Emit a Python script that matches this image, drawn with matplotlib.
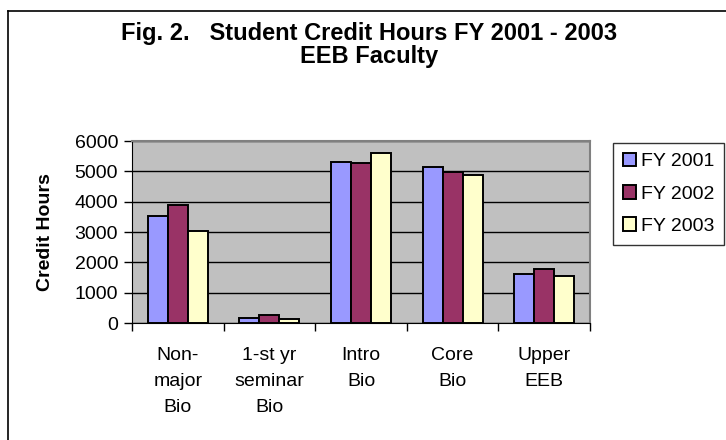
import matplotlib
matplotlib.use("Agg")
import matplotlib.pyplot as plt
import numpy as np
from matplotlib.lines import Line2D
from matplotlib.patches import Patch

categories = ["Non-\nmajor\nBio", "1-st yr\nseminar\nBio", "Intro\nBio", "Core\nBio", "Upper\nEEB"]
series_names = ["FY 2001", "FY 2002", "FY 2003"]
fy2001 = [3530, 175, 5320, 5130, 1615]
fy2002 = [3900, 250, 5265, 4970, 1770]
fy2003 = [3030, 130, 5595, 4880, 1550]
yticks = [0, 1000, 2000, 3000, 4000, 5000, 6000]

colors = ["#9999FF", "#993366", "#FFFFCC"]
plt.rcParams['font.family'] = ['Liberation Sans', 'DejaVu Sans']

W, H = 726, 440
fig = plt.figure(figsize=(W/100, H/100), dpi=100)
fig.patch.set_facecolor("white")

ax = fig.add_axes([132/W, 1-323/H, (590-132)/W, (323-141)/H])
ax.set_facecolor("#C0C0C0")
x = np.arange(len(categories))
bw = 0.218
for i, (vals, c) in enumerate(zip([fy2001, fy2002, fy2003], colors)):
    ax.bar(x + (i-1)*bw, vals, width=bw, color=c, edgecolor="black", linewidth=1.4, zorder=3)

ax.set_xlim(-0.5, len(categories)-0.5)
ax.set_ylim(0, 6000)
ax.set_yticks(yticks)
ax.set_yticklabels([str(v) for v in yticks], fontsize=14)
ax.yaxis.grid(True, color="black", linewidth=1, zorder=1)
ax.set_axisbelow(True)
ax.set_xticks(np.arange(len(categories)+1)-0.5, minor=False)
ax.set_xticklabels([])
ax.set_xticks(x, minor=True)
ax.set_xticklabels(categories, minor=True, fontsize=14, linespacing=1.7)
ax.tick_params(axis='x', which='minor', length=0, pad=17)
ax.tick_params(axis='x', which='major', length=6, width=1, direction='out', color='black')
ax.tick_params(axis='y', length=6, width=1, direction='out', pad=4)
for s in ["top", "right"]:
    ax.spines[s].set_color("#808080")
    ax.spines[s].set_linewidth(1.5)
ax.spines["left"].set_color("black")
ax.spines["bottom"].set_color("black")
ax.set_ylabel("Credit Hours", fontsize=14, fontweight="bold", labelpad=15)

fig.text(369.5/W, 1-40/H, "Fig. 2.   Student Credit Hours FY 2001 - 2003", ha="center", va="baseline",
         fontsize=17, fontweight="bold")
fig.text(369.5/W, 1-63/H, "EEB Faculty", ha="center", va="baseline", fontsize=17, fontweight="bold")

handles = [Patch(facecolor=c, edgecolor="black", linewidth=1.4) for c in colors]
leg = fig.legend(handles, series_names, loc="upper left", bbox_to_anchor=(613/W, 1-143/H),
                 fontsize=14, frameon=True, fancybox=False, handlelength=0.7, handleheight=0.7,
                 handletextpad=0.25, labelspacing=0.76, borderpad=0.5, borderaxespad=0)
leg.get_frame().set_edgecolor("black")
leg.get_frame().set_linewidth(1)

fig.add_artist(Line2D([8/W, 8/W], [0, 1-11/H], color="black", linewidth=1.2, transform=fig.transFigure))
fig.add_artist(Line2D([8/W, 1], [1-11/H, 1-11/H], color="black", linewidth=1.2, transform=fig.transFigure))

fig.savefig("out.png", dpi=100)
